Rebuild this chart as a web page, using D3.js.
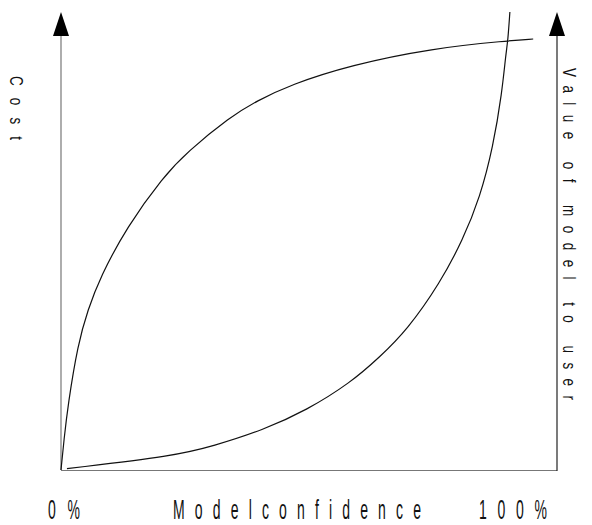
<!DOCTYPE html>
<html>
<head>
<meta charset="utf-8">
<script src="https://cdn.jsdelivr.net/npm/d3@7"></script>
<style>
  html, body { margin: 0; padding: 0; background: #fff; }
  svg { display: block; }
</style>
</head>
<body>
<svg id="chart" width="592" height="525"></svg>
<script>
// Model confidence (%) vs. relative level (0-100)
const costConfidence = [0, 0.6, 1.4, 3.4, 5.4, 7.9, 13.3, 20.6, 25.4, 34.1, 39.5, 46.2, 58.3, 75.0, 89.9, 95.2];
const costValues     = [0, 6.6, 14.2, 27.5, 34.9, 42.1, 53.1, 64.0, 69.4, 77.1, 80.6, 84.1, 88.4, 92.1, 93.7, 94.1];

const valueConfidence = [1.2, 23.0, 30.6, 40.7, 49.6, 58.3, 64.3, 69.8, 76.4, 81.0, 84.5, 87.1, 88.9, 89.7, 90.1, 90.5];
const valueValues     = [0.3, 3.1, 5.2, 8.7, 13.1, 19.0, 24.7, 30.6, 40.8, 50.2, 59.6, 70.5, 82.3, 91.0, 93.7, 100];

const xTickLabels = ["0 %", "1 0 0 %"];
const xAxisTitle = "Model confidence";
const leftAxisTitle = "Cost";
const rightAxisTitle = "Value of model to user";

const svg = d3.select("#chart");
const x = d3.scaleLinear().domain([0, 100]).range([61, 557]);
const y = d3.scaleLinear().domain([0, 100]).range([470, 12]);

// axes lines
svg.append("line").attr("x1", x(0)).attr("x2", x(0)).attr("y1", y(0)).attr("y2", y(100) + 20)
  .attr("stroke", "#777").attr("stroke-width", 1.2);
svg.append("line").attr("x1", x(0)).attr("x2", x(100)).attr("y1", y(0) + 0.5).attr("y2", y(0) + 0.5)
  .attr("stroke", "#777").attr("stroke-width", 1.2);
svg.append("line").attr("x1", x(100)).attr("x2", x(100)).attr("y1", y(0) + 1).attr("y2", y(100) + 20)
  .attr("stroke", "#222").attr("stroke-width", 1.2);

// arrow heads
function arrow(px) {
  const tip = y(100);
  svg.append("path")
    .attr("d", `M${px},${tip} L${px - 8},${tip + 24} L${px + 8},${tip + 24} Z`)
    .attr("fill", "#000");
}
arrow(x(0));
arrow(x(100));

const line = d3.line().x(d => x(d[0])).y(d => y(d[1])).curve(d3.curveBasis);

svg.append("path")
  .datum(costConfidence.map((c, i) => [c, costValues[i]]))
  .attr("d", line).attr("fill", "none").attr("stroke", "#111").attr("stroke-width", 1.2);

svg.append("path")
  .datum(valueConfidence.map((c, i) => [c, valueValues[i]]))
  .attr("d", line).attr("fill", "none").attr("stroke", "#111").attr("stroke-width", 1.2);

// bottom labels (tall condensed)
const sx = 0.5;
function bottomText(str, x0, x1) {
  svg.append("text")
    .attr("transform", `translate(${x0},519) scale(${sx},1)`)
    .attr("x", 0).attr("y", 0)
    .attr("textLength", (x1 - x0) / sx)
    .attr("lengthAdjust", "spacing")
    .style("font-family", "'Liberation Sans', Arial, sans-serif")
    .style("font-size", "28px")
    .attr("fill", "#111")
    .text(str);
}
bottomText(xTickLabels[0], 48, 80);
bottomText(xAxisTitle.replace(" ", ""), 173, 421);
bottomText(xTickLabels[1], 479, 547);

// side labels (vertical, reading top to bottom)
const sy = 0.75;
function sideText(str, bx, y0, y1) {
  svg.append("text")
    .attr("transform", `translate(${bx},${y0}) rotate(90) scale(${sy},1)`)
    .attr("x", 0).attr("y", 0)
    .attr("textLength", (y1 - y0) / sy)
    .attr("lengthAdjust", "spacing")
    .style("font-family", "'Liberation Sans', Arial, sans-serif")
    .style("font-size", "18px")
    .attr("fill", "#111")
    .text(str);
}
sideText(leftAxisTitle, 10, 76, 140);
sideText(rightAxisTitle, 563, 68, 400);
</script>
</body>
</html>
